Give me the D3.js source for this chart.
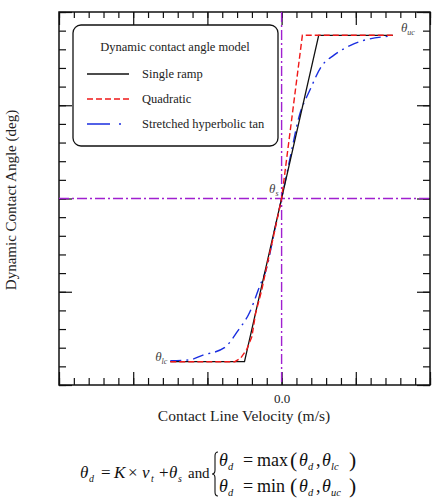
<!DOCTYPE html>
<html>
<head>
<meta charset="utf-8">
<script src="https://cdn.jsdelivr.net/npm/d3@7"></script>
<style>
  body { margin: 0; background: #fff; }
</style>
</head>
<body>
<div id="chart"></div>
<script>
// Dynamic contact angle models
// x: contact line velocity (arbitrary units, 0 at centre), y: angle relative to theta_s
const xTicksMajor = [-3, -2, -1, 0, 1, 2];
const yTicksMajor = [-2, -1, 0, 1, 2];
const thetaS = 0, thetaLc = -1.75, thetaUc = 1.75;

const singleRamp = [[-1.5, -1.75], [-0.5, -1.75], [0.5, 1.75], [1.5, 1.75]];
const quadratic = [[-1.5, -1.75], [-0.63, -1.75], [-0.55, -1.71], [-0.47, -1.62], [-0.40, -1.48],
                   [-0.35, -1.23], [-0.27, -0.99], [-0.19, -0.69], [-0.11, -0.41], [-0.04, -0.15],
                   [0, 0], [0.28, 1.75], [1.5, 1.75]];
const stretchedTanh = [[-1.5, -1.74], [-1.24, -1.73], [-1.06, -1.68], [-0.77, -1.60], [-0.59, -1.42],
                       [-0.43, -1.22], [-0.30, -0.95], [-0.20, -0.74], [-0.094, -0.34], [0, 0],
                       [0.108, 0.41], [0.24, 0.89], [0.38, 1.16], [0.54, 1.42], [0.71, 1.54],
                       [0.98, 1.66], [1.43, 1.74]];
const legendNames = ["Single ramp", "Quadratic", "Stretched hyperbolic tan"];

const W = 439, H = 502;
const frame = {left: 59, right: 430, top: 12, bottom: 385};
const serif = "Liberation Serif";

const svg = d3.select("#chart").append("svg")
              .attr("width", W)
              .attr("height", H);

const xScale = d3.scaleLinear().domain([-3, 2]).range([frame.left, frame.right]);
const yScale = d3.scaleLinear().domain([-2, 2]).range([frame.bottom, frame.top]);

// minor ticks every 0.2, majors every 1
const xMinor = d3.range(-3, 2.001, 0.2).map(d => +d.toFixed(2));
const yMinor = d3.range(-2, 2.001, 0.2).map(d => +d.toFixed(2));

function tickAxis(axisFn, scale, values, size, transform) {
    const g = svg.append("g")
       .attr("transform", transform)
       .call(axisFn(scale).tickValues(values).tickSize(size).tickFormat(""));
    g.select(".domain").remove();
    g.selectAll("line").attr("stroke", "#111").attr("stroke-width", 1.2);
}

// inward ticks on all four sides
tickAxis(d3.axisTop, xScale, xMinor, 7, `translate(0,${frame.bottom})`);
tickAxis(d3.axisTop, xScale, xTicksMajor, 13, `translate(0,${frame.bottom})`);
tickAxis(d3.axisBottom, xScale, xMinor, 6, `translate(0,${frame.top})`);
tickAxis(d3.axisBottom, xScale, xTicksMajor, 13, `translate(0,${frame.top})`);
tickAxis(d3.axisRight, yScale, yMinor, 7, `translate(${frame.left},0)`);
tickAxis(d3.axisRight, yScale, yTicksMajor, 13, `translate(${frame.left},0)`);
tickAxis(d3.axisLeft, yScale, yMinor, 7, `translate(${frame.right},0)`);
tickAxis(d3.axisLeft, yScale, yTicksMajor, 13, `translate(${frame.right},0)`);

// only the 0.0 label is shown on the x axis
const xLab = svg.append("g")
   .attr("transform", `translate(0,${frame.bottom})`)
   .call(d3.axisBottom(xScale).tickValues([0]).tickSize(0).tickPadding(9).tickFormat(d3.format(".1f")));
xLab.select(".domain").remove();
xLab.attr("font-family", serif).attr("font-size", 13);
xLab.selectAll("text").attr("fill", "#222");

// frame
svg.append("rect")
   .attr("x", frame.left).attr("y", frame.top)
   .attr("width", frame.right - frame.left).attr("height", frame.bottom - frame.top)
   .attr("fill", "none").attr("stroke", "#111").attr("stroke-width", 1.5);

// purple reference lines through theta_s and v = 0
const purple = "#a020d0";
svg.append("line")
   .attr("x1", xScale(0)).attr("x2", xScale(0))
   .attr("y1", frame.top).attr("y2", frame.bottom)
   .attr("stroke", purple).attr("stroke-width", 1.4).attr("stroke-dasharray", "10,3,2,3");
svg.append("line")
   .attr("x1", frame.left).attr("x2", frame.right)
   .attr("y1", yScale(thetaS)).attr("y2", yScale(thetaS))
   .attr("stroke", purple).attr("stroke-width", 1.4).attr("stroke-dasharray", "10,3,2,3");

// model curves
const lineLinear = d3.line().x(d => xScale(d[0])).y(d => yScale(d[1]));
const lineSmooth = d3.line().x(d => xScale(d[0])).y(d => yScale(d[1])).curve(d3.curveMonotoneX);

svg.append("path").datum(stretchedTanh)
   .attr("d", lineSmooth).attr("fill", "none")
   .attr("stroke", "#1a2ee0").attr("stroke-width", 1.4).attr("stroke-dasharray", "11,5,2,5");
svg.append("path").datum(singleRamp)
   .attr("d", lineLinear).attr("fill", "none")
   .attr("stroke", "#111").attr("stroke-width", 1.3);
svg.append("path").datum(quadratic)
   .attr("d", lineLinear).attr("fill", "none")
   .attr("stroke", "#f01818").attr("stroke-width", 1.4).attr("stroke-dasharray", "6,3");

// theta labels
function thetaLabel(x, y, sub, anchor) {
    const t = svg.append("text")
       .attr("x", x).attr("y", y)
       .attr("text-anchor", anchor)
       .attr("font-family", serif)
       .attr("fill", "#444")
       .attr("font-style", "italic")
       .attr("font-size", 13);
    t.append("tspan").text("θ");
    t.append("tspan").attr("dy", 3).attr("font-size", 8).text(sub);
}
thetaLabel(xScale(1.5) + 8, yScale(thetaUc) - 3, "uc", "start");
thetaLabel(xScale(0) - 3, yScale(thetaS) - 6, "s", "end");
thetaLabel(xScale(-1.5) - 3, yScale(thetaLc) - 1, "lc", "end");

// legend
const legend = svg.append("g").attr("font-family", serif);
legend.append("rect")
   .attr("x", 73).attr("y", 25).attr("width", 205).attr("height", 121)
   .attr("rx", 8).attr("ry", 8)
   .attr("fill", "#fff").attr("stroke", "#111").attr("stroke-width", 1.3);
legend.append("text")
   .attr("x", 175).attr("y", 51).attr("text-anchor", "middle")
   .attr("font-size", 12.5).attr("fill", "#222")
   .text("Dynamic contact angle model");
const legendStyles = [
    {stroke: "#111", dash: null},
    {stroke: "#f01818", dash: "6,3"},
    {stroke: "#1a2ee0", dash: "23,9,2,9"}
];
legendNames.forEach(function (name, i) {
    const y = 74 + i * 25;
    legend.append("line")
       .attr("x1", 87).attr("x2", 129).attr("y1", y).attr("y2", y)
       .attr("stroke", legendStyles[i].stroke).attr("stroke-width", 1.3)
       .attr("stroke-dasharray", legendStyles[i].dash);
    legend.append("text")
       .attr("x", 142).attr("y", y + 4)
       .attr("font-size", 12.5).attr("fill", "#222")
       .text(name);
});

// axis titles
svg.append("text")
   .attr("x", 244).attr("y", 421).attr("text-anchor", "middle")
   .attr("font-family", serif)
   .attr("font-size", 15.5).attr("fill", "#222")
   .text("Contact Line Velocity (m/s)");
svg.append("text")
   .attr("transform", "translate(16,200) rotate(-90)")
   .attr("text-anchor", "middle")
   .attr("font-family", serif)
   .attr("font-size", 15).attr("fill", "#222")
   .text("Dynamic Contact Angle (deg)");

// model equation below the chart: each part is [text, style, x]
const eq = svg.append("g").attr("font-family", serif).attr("fill", "#111");
function eqText(y, size, parts) {
    const t = eq.append("text").attr("font-size", size);
    parts.forEach(function (p) {
        const s = t.append("tspan").attr("x", p[2]).attr("y", y).text(p[0]);
        if (p[1] === "i") s.attr("font-style", "italic");
        if (p[1] === "sub") s.attr("font-style", "italic").attr("font-size", size * 0.58).attr("y", y + 4);
        if (p[1] === "big") s.attr("font-size", size * 1.2).attr("y", y + 1);
        if (p[1] === "small") s.attr("font-size", size * 0.88);
    });
}
eqText(478, 17, [["θ", "i", 80], ["d", "sub", 89], ["=", "", 101], ["K", "i", 114], ["×", "", 128],
                 ["v", "i", 142], ["t", "sub", 151], ["+", "", 159], ["θ", "i", 169], ["s", "sub", 178],
                 ["and", "small", 188]]);
eqText(466, 18, [["θ", "i", 219], ["d", "sub", 228], ["=", "", 243], ["max", "", 257], ["(", "big", 290],
                 ["θ", "i", 299], ["d", "sub", 308], [",", "", 316], ["θ", "i", 322], ["lc", "sub", 331],
                 [")", "big", 349]]);
eqText(492, 18, [["θ", "i", 219], ["d", "sub", 228], ["=", "", 243], ["min", "", 257], ["(", "big", 290],
                 ["θ", "i", 299], ["d", "sub", 308], [",", "", 316], ["θ", "i", 322], ["uc", "sub", 331],
                 [")", "big", 349]]);

// curly brace
const bx = 215, by0 = 452, by1 = 496, bm = (by0 + by1) / 2;
const brace = d3.path();
brace.moveTo(bx + 3, by0);
brace.quadraticCurveTo(bx, by0, bx, by0 + 4);
brace.lineTo(bx, bm - 4);
brace.quadraticCurveTo(bx, bm, bx - 3, bm);
brace.quadraticCurveTo(bx, bm, bx, bm + 4);
brace.lineTo(bx, by1 - 4);
brace.quadraticCurveTo(bx, by1, bx + 3, by1);
eq.append("path").attr("d", brace.toString())
   .attr("fill", "none").attr("stroke", "#111").attr("stroke-width", 1.1);
</script>
</body>
</html>
